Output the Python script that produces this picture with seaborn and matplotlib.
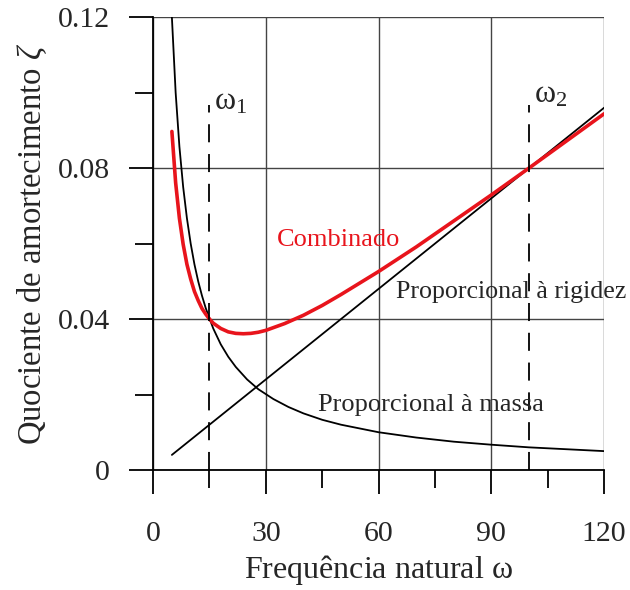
import matplotlib
matplotlib.use("Agg")
import matplotlib.pyplot as plt
import seaborn as sns

# natural frequency (omega) and damping ratio values
omega_mass = [5, 6, 7, 8, 9, 10, 11, 12, 13, 14, 16, 18, 20, 22, 25, 28, 32, 36,
              40, 45, 50, 60, 70, 80, 90, 100, 110, 120]
zeta_mass = [0.120, 0.100, 0.0857, 0.075, 0.0667, 0.060, 0.0545, 0.050, 0.0462,
             0.0429, 0.0375, 0.0333, 0.030, 0.0273, 0.024, 0.0214, 0.0188, 0.0167,
             0.015, 0.0133, 0.012, 0.010, 0.0086, 0.0075, 0.0067, 0.006, 0.0055, 0.005]

omega_stiff = [5, 120]
zeta_stiff = [0.004, 0.096]

omega_comb = [5, 6, 7, 8, 9, 10, 11, 12, 13, 14, 15, 16, 18, 20, 22, 24, 26, 28, 30,
              35, 40, 45, 50, 60, 70, 80, 90, 100, 110, 120]
zeta_comb = [0.0897, 0.0761, 0.0667, 0.0598, 0.0545, 0.0506, 0.0473, 0.0449, 0.0428,
             0.0413, 0.0400, 0.0389, 0.0375, 0.0366, 0.0362, 0.0361, 0.0362, 0.0365,
             0.0370, 0.0388, 0.0410, 0.0436, 0.0465, 0.0526, 0.0591, 0.0660, 0.0729,
             0.0800, 0.0872, 0.0944]

omega_marks = [15, 100]
marks_top = 0.0967
mark_labels = [r"$\mathrm{\omega}_1$", r"$\mathrm{\omega}_2$"]
mark_label_y = [0.0955, 0.0975]

x_ticks = [0, 30, 60, 90, 120]
y_ticks = [0, 0.04, 0.08, 0.12]
y_ticklabels = ["0", "0.04", "0.08", "0.12"]

sns.set_style("ticks")
plt.rcParams["font.family"] = ["Liberation Serif", "DejaVu Serif"]
plt.rcParams["mathtext.fontset"] = "custom"
plt.rcParams["mathtext.rm"] = "Liberation Serif"
plt.rcParams["mathtext.it"] = "Liberation Serif:italic"

fig = plt.figure(figsize=(6.3, 5.9), dpi=100)
ax = fig.add_axes([0.243, 0.2034, 0.716, 0.7676])

ax.grid(True, color="#444444", lw=1.0)
ax.set_axisbelow(True)

sns.lineplot(x=omega_mass, y=zeta_mass, ax=ax, color="black", lw=1.3,
             estimator=None, sort=False)
sns.lineplot(x=omega_stiff, y=zeta_stiff, ax=ax, color="black", lw=1.3,
             estimator=None, sort=False)
sns.lineplot(x=omega_comb, y=zeta_comb, ax=ax, color="#e8141c", lw=2.6,
             estimator=None, sort=False)

ax.vlines(omega_marks, 0, marks_top, colors="black", lw=1.3,
          linestyles=(0, (10, 6.5)))
for w, lab, ly in zip(omega_marks, mark_labels, mark_label_y):
    ax.text(w + 1.3, ly, lab, fontsize=23, ha="left", va="baseline")

ax.text(33, 0.061, "Combinado", color="#e8141c", fontsize=19, va="center")
ax.text(64.5, 0.0472, "Proporcional à rigidez", fontsize=18.7, va="center")
ax.text(44, 0.0172, "Proporcional à massa", fontsize=19, va="center")

ax.set_xlim(0, 120)
ax.set_ylim(0, 0.12)
ax.set_xticks(x_ticks)
ax.set_xticks([15, 45, 75, 105], minor=True)
ax.set_yticks(y_ticks)
ax.set_yticklabels(y_ticklabels)
ax.set_yticks([0.02, 0.06, 0.10], minor=True)
ax.tick_params(which="major", length=17, width=1.3, labelsize=21.5, color="black")
ax.tick_params(axis="x", which="major", pad=20)
ax.tick_params(axis="y", which="major", pad=14)
ax.tick_params(which="minor", length=13, width=1.3, color="black")
sns.despine(ax=ax)
for s in ["left", "bottom"]:
    ax.spines[s].set_linewidth(1.3)
    ax.spines[s].set_color("black")

ax.set_xlabel(r"Frequência natural $\mathrm{\omega}$", fontsize=23, labelpad=4)
ax.set_ylabel(r"Quociente de amortecimento $\zeta$", fontsize=23.5, labelpad=6)

fig.savefig("out.png", dpi=100)
